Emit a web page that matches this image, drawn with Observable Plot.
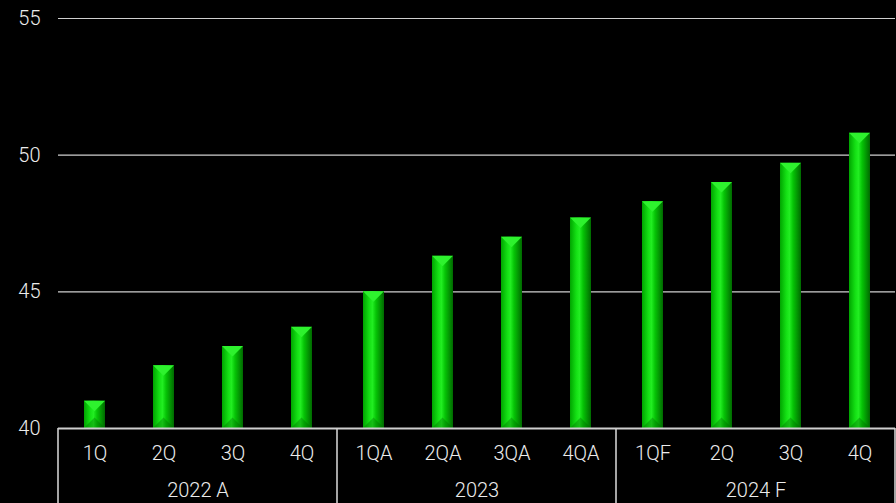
<!DOCTYPE html>
<html>
<head>
<meta charset="utf-8">
<script src="https://cdn.jsdelivr.net/npm/d3@7"></script>
<script src="https://cdn.jsdelivr.net/npm/@observablehq/plot@0.6"></script>
<style>
  html, body { margin: 0; padding: 0; background: #000; }
  #chart svg { display: block; }
</style>
</head>
<body>
<div id="chart"></div>
<script>
// Quarterly series, grouped by reporting year
const years = ["2022 A", "2023", "2024 F"];
const slots = ["1", "2", "3", "4"];
const quarterLabels = [
  ["1Q", "2Q", "3Q", "4Q"],
  ["1QA", "2QA", "3QA", "4QA"],
  ["1QF", "2Q", "3Q", "4Q"]
];
const values = [
  [41.0, 42.3, 43.0, 43.7],
  [45.0, 46.3, 47.0, 47.7],
  [48.3, 49.0, 49.7, 50.8]
];
const yTicks = [40, 45, 50, 55];

const rows = years.flatMap((year, i) =>
  slots.map((slot, j) => ({year, slot, label: quarterLabels[i][j], value: values[i][j]}))
);

const textColor = "#ececec";
const lineColor = "#cfcfcf";

const chart = Plot.plot({
  width: 896,
  height: 503,
  marginTop: 18,
  marginLeft: 58,
  marginRight: 1,
  marginBottom: 75,
  style: {background: "#000", color: textColor, fontFamily: "Roboto, 'Liberation Sans', sans-serif", fontSize: "20px", fontWeight: 300},
  fx: {domain: years, padding: 0, axis: null},
  x: {domain: slots, paddingInner: 0.7, paddingOuter: 0.35, axis: null},
  y: {domain: [40, 55], axis: null},
  marks: [
    Plot.gridY(yTicks.filter(t => t > 40), {stroke: lineColor, strokeOpacity: 1, strokeWidth: 1.2}),
    Plot.axisY(yTicks, {tickSize: 0, tickPadding: 18, fontSize: 20, fill: textColor, label: null}),
    Plot.barY(rows, {fx: "year", x: "slot", y1: 40, y2: "value", fill: "url(#barGrad)"}),
    Plot.ruleY([40], {stroke: lineColor, strokeWidth: 2}),
    Plot.text(rows, {fx: "year", x: "slot", text: "label", frameAnchor: "bottom", dy: 31, fill: textColor, fontSize: 20}),
    Plot.text(years, {fx: d => d, text: d => d, frameAnchor: "bottom", dy: 68, fill: textColor, fontSize: 20})
  ]
});

document.getElementById("chart").appendChild(chart);

// Horizontal shading and bevelled caps for the bars
const svg = d3.select(chart);
const grad = svg.insert("defs", ":first-child")
  .append("linearGradient").attr("id", "barGrad")
  .attr("x1", 0).attr("x2", 1).attr("y1", 0).attr("y2", 0);
[[0, "#00a400"], [0.3, "#14e014"], [0.45, "#22ee22"], [0.62, "#06c406"], [1, "#006a00"]]
  .forEach(([o, c]) => grad.append("stop").attr("offset", o).attr("stop-color", c));

svg.selectAll("g[aria-label='bar'] rect").each(function() {
  const r = d3.select(this);
  const x = +r.attr("x"), y = +r.attr("y"), w = +r.attr("width"), h = +r.attr("height");
  const d = Math.min(w * 0.5, h / 2);
  const parent = d3.select(this.parentNode);
  parent.append("path")
    .attr("d", `M${x},${y}L${x + w},${y}L${x + w / 2},${y + d}Z`)
    .attr("fill", "#2ef22e");
  parent.append("path")
    .attr("d", `M${x},${y + h}L${x + w},${y + h}L${x + w / 2},${y + h - d}Z`)
    .attr("fill", "#006400").attr("fill-opacity", 0.35);
});

// Vertical dividers of the year groups under the axis
const fx = chart.scale("fx");
const y0 = chart.scale("y").apply(40);
const edges = years.map(g => fx.apply(g)).concat([fx.apply(years[years.length - 1]) + fx.bandwidth]);
svg.append("g").selectAll("line").data(edges).join("line")
  .attr("x1", d => d).attr("x2", d => d)
  .attr("y1", y0).attr("y2", 503)
  .attr("stroke", lineColor).attr("stroke-width", 1.6);
</script>
</body>
</html>
